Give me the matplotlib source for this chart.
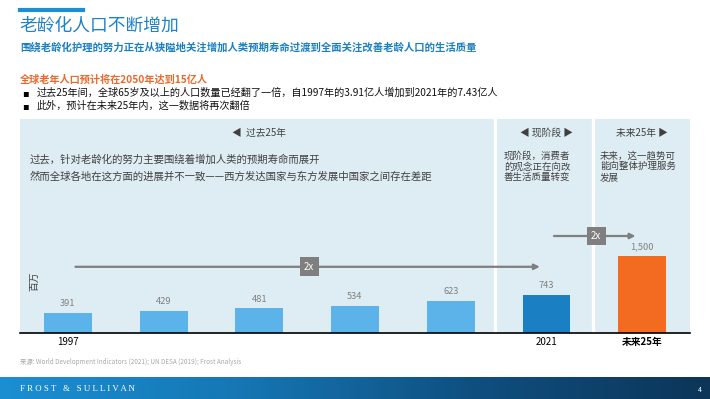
import numpy as np
import matplotlib
matplotlib.use('Agg')
import matplotlib.pyplot as plt
from matplotlib.colors import LinearSegmentedColormap

plt.rcParams['font.family'] = ['Noto Sans CJK SC', 'DejaVu Sans']

# 数据
years = ['1997', '', '', '', '', '2021', '未来25年']
values = [391, 429, 481, 534, 623, 743, 1500]
bar_colors = ['#5bb3ea'] * 5 + ['#1b7fc4', '#f26b21']

title = '老龄化人口不断增加'
subtitle = '围绕老龄化护理的努力正在从狭隘地关注增加人类预期寿命过渡到全面关注改善老龄人口的生活质量'
heading = '全球老年人口预计将在2050年达到15亿人'
bullets = ['过去25年间，全球65岁及以上的人口数量已经翻了一倍，自1997年的3.91亿人增加到2021年的7.43亿人',
           '此外，预计在未来25年内，这一数据将再次翻倍']
phase_titles = ['◀  过去25年', '◀ 现阶段 ▶', '未来25年 ▶']
past_notes = ['过去，针对老龄化的努力主要围绕着增加人类的预期寿命而展开',
              '然而全球各地在这方面的进展并不一致——西方发达国家与东方发展中国家之间存在差距']
now_notes = ['现阶段，消费者', '的观念正在向改', '善生活质量转变']
future_notes = ['未来，这一趋势可', '能向整体护理服务', '发展']
source = '来源: World Development Indicators (2021); UN DESA (2019); Frost Analysis'

W, H = 710, 399
fig = plt.figure(figsize=(W / 100, H / 100), dpi=100)


def fx(x):
    return x / W


def fy(y):
    return 1 - y / H


# 顶部标题区
fig.add_artist(plt.Line2D([fx(20), fx(83)], [fy(10), fy(10)], color='#1f8dd6', lw=3))
fig.text(fx(19), fy(26), title, fontsize=12.8, color='#1f82c8', va='center', ha='left')
fig.text(fx(20), fy(48), subtitle, fontsize=7.45, color='#1a7fc1', weight='bold', va='center')
fig.text(fx(20), fy(80), heading, fontsize=7.3, color='#e8692a', weight='bold', va='center')
for i, b in enumerate(bullets):
    y = 93 + i * 13
    fig.text(fx(22), fy(y), '▪', fontsize=7, color='black', va='center',
             family=['DejaVu Sans'])
    fig.text(fx(37), fy(y), b, fontsize=7.3, color='#111111', va='center')

# 主图
ax = fig.add_axes([fx(20), 66 / H, 670 / W, 214 / H])
ax.set_facecolor('#deedf3')
x = np.arange(len(values))
ax.bar(x, values, width=0.5, color=bar_colors, zorder=3)
ax.set_xlim(-0.5, 6.5)
ax.set_ylim(0, 4170)

for xi, v in zip(x, values):
    ax.text(xi, v + 180, f'{v:,}', ha='center', va='center', fontsize=6.7, color='#808080')

ax.set_xticks(x)
ax.set_xticklabels(years, fontsize=7, color='black')
ax.get_xticklabels()[-1].set_weight('bold')
ax.tick_params(axis='x', length=0, pad=3)
ax.set_yticks([])
for s in ['top', 'left', 'right']:
    ax.spines[s].set_visible(False)
ax.spines['bottom'].set_color('black')
ax.spines['bottom'].set_linewidth(1.2)
ax.spines['bottom'].set_zorder(5)

# 阶段分隔线
for d in [4.46, 5.49]:
    ax.axvline(d, color='white', lw=2.3, zorder=2)

ax.text(0.022, 0.243, '百万', rotation=90, transform=ax.transAxes, fontsize=7,
        color='#404040', ha='center', va='center')

# 阶段标题与说明
for xc, t in zip([2, 5, 6], phase_titles):
    ax.text(xc, 0.935, t, transform=ax.get_xaxis_transform(), ha='center', va='center',
            fontsize=7, color='#404040')
for i, t in enumerate(past_notes):
    ax.text(0.015, (333 - 160 - i * 17) / 214, t, transform=ax.transAxes, fontsize=7.5,
            color='#404040', style='italic', va='center')
for notes, xs in [(now_notes, 504), (future_notes, 600)]:
    for i, t in enumerate(notes):
        ax.text((xs - 20) / 670, (333 - 156 - i * 10.6) / 214, t, transform=ax.transAxes,
                fontsize=6.8, color='#404040', style='italic', va='center')

# 2x 箭头
arrows = [(0, 5, 1290), (5, 6, 1890)]
for a, b, yv in arrows:
    ax.annotate('', xy=(b - 0.04, yv), xytext=(a + 0.05, yv),
                arrowprops=dict(arrowstyle='-|>', color='#7f7f7f', lw=1.6, mutation_scale=8),
                zorder=4)
    ax.text((a + b) / 2 + 0.02, yv, '2x', ha='center', va='center', fontsize=7, color='white',
            bbox=dict(boxstyle='square,pad=0.45', fc='#7f7f7f', ec='none'), zorder=6)

# 来源
fig.text(fx(20), fy(362), source, fontsize=4.6, color='#a8a8a8', va='center')

# 底部色带
fax = fig.add_axes([0, 0, 1, 22 / H])
cmap = LinearSegmentedColormap.from_list('band', ['#1b8fd2', '#1677b4', '#0f4f80', '#0c3558'])
fax.imshow(np.linspace(0, 1, 256).reshape(1, -1), aspect='auto', cmap=cmap, extent=[0, 1, 0, 1])
fax.axis('off')
fig.text(fx(20), fy(389), 'F R O S T   &   S U L L I V A N', fontsize=6.4,
         color='white', va='center', family=['Liberation Serif'])
fig.text(fx(700), fy(390), '4', fontsize=5, color='white', va='center', ha='center')

fig.savefig('out.png', dpi=100)
